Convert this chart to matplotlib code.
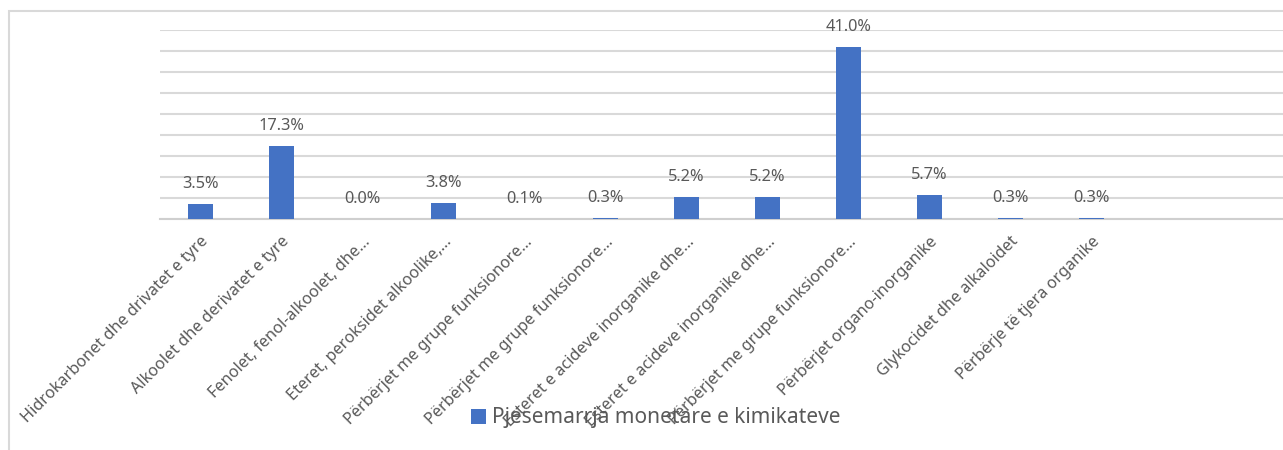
import matplotlib.pyplot as plt
from matplotlib.patches import Rectangle
import numpy as np

plt.rcParams['font.family'] = ['Noto Sans', 'DejaVu Sans']

# Kategorite e kimikateve dhe pjesemarrja monetare (%)
categories = [
    "Hidrokarbonet dhe drivatet e tyre",
    "Alkoolet dhe derivatet e tyre",
    "Fenolet, fenol-alkoolet, dhe...",
    "Eteret, peroksidet alkoolike,...",
    "Përbërjet me grupe funksionore...",
    "Përbërjet me grupe funksionore...",
    "Esteret e acideve inorganike dhe...",
    "Esteret e acideve inorganike dhe...",
    "Përbërjet me grupe funksionore...",
    "Përbërjet organo-inorganike",
    "Glykocidet dhe alkaloidet",
    "Përbërje të tjera organike",
]
shares = [3.5, 17.3, 0.0, 3.8, 0.1, 0.3, 5.2, 5.2, 41.0, 5.7, 0.3, 0.3]
series_name = "Pjesemarrja monetare e kimikateve"

BAR_COLOR = "#4472C4"
TEXT_COLOR = "#595959"
GRID_COLOR = "#d9d9d9"

W, H = 1283, 450
fig = plt.figure(figsize=(W / 100, H / 100), dpi=100)

# outer chart frame (runs off the right and bottom edge)
fig.patches.append(Rectangle((9 / W, -0.1), 1.2, 1 - 10.5 / H + 0.1,
                             transform=fig.transFigure, fill=False,
                             edgecolor=GRID_COLOR, linewidth=1.5))

ax = fig.add_axes([160 / W, 1 - 219 / H, 1 - 160 / W, (219 - 30) / H])

x = np.arange(len(categories))
bars = ax.bar(x, shares, width=0.31, color=BAR_COLOR, zorder=3,
              label=series_name)

for xi, v in zip(x, shares):
    ax.annotate(f"{v:.1f}%", (xi, v), xytext=(0, 11.5),
                textcoords="offset points", ha="center", va="baseline",
                fontsize=11.8, color=TEXT_COLOR)

ax.set_ylim(0, 45)
ax.set_yticks(np.arange(0, 46, 5))
ax.set_xlim(-0.5, -0.5 + (W - 160) / 81)
ax.grid(axis="y", color=GRID_COLOR, linewidth=1.5, zorder=0)
ax.tick_params(axis="y", left=False, labelleft=False)
ax.tick_params(axis="x", bottom=False, pad=7)
ax.set_xticks(x)
ax.set_xticklabels(categories, rotation=45, ha="right",
                   rotation_mode="anchor", fontsize=11.7, color=TEXT_COLOR)
for side in ["left", "right", "top"]:
    ax.spines[side].set_visible(False)
ax.spines["bottom"].set_color("#cfcfcf")
ax.spines["bottom"].set_linewidth(1.5)

ax.legend(loc="center", bbox_to_anchor=(656 / W, 1 - 418 / H),
          bbox_transform=fig.transFigure, frameon=False, fontsize=15,
          labelcolor=TEXT_COLOR, handlelength=0.7, handleheight=0.7,
          handletextpad=0.3)

fig.savefig("out.png", dpi=100)
